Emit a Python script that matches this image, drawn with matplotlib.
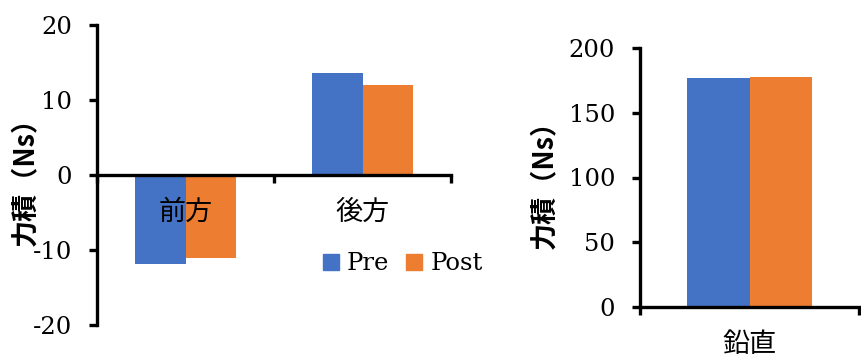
import numpy as np
import matplotlib
matplotlib.use("Agg")
from matplotlib import pyplot as plt
from matplotlib.patches import Patch

# data
horiz_labels = ["前方", "後方"]
horiz_pre = [-11.9, 13.6]
horiz_post = [-11.0, 12.0]

vert_labels = ["鉛直"]
vert_pre = [176.6]
vert_post = [177.4]

series_names = ["Pre", "Post"]
colors = ["#4472C4", "#ED7D31"]

serif = ["DejaVu Serif"]
cjk = ["Noto Sans CJK JP", "DejaVu Sans"]
fs = 17.5
fs_cjk = 19.5
bar_w = 0.285
spine_w = 2.4


def style_axes(ax, labels, ylim, yticks):
    # moving the spine resets ticks, so do it first
    ax.spines["bottom"].set_position(("data", 0))
    x = np.arange(len(labels))
    ax.set_xlim(-0.5, len(labels) - 0.5)
    ax.set_ylim(*ylim)
    ax.set_yticks(yticks)
    ax.set_yticklabels([str(t) for t in yticks], family=serif, fontsize=fs)
    ax.set_xticks(x)
    ax.set_xticklabels(labels, family=cjk, fontsize=fs_cjk)
    ax.set_xticks(np.arange(len(labels) + 1) - 0.5, minor=True)
    ax.tick_params(axis="x", which="major", length=0, pad=17)
    ax.tick_params(axis="x", which="minor", length=6, width=spine_w, direction="out")
    ax.tick_params(axis="y", length=6, width=spine_w, direction="out", pad=12)
    for s in ["top", "right"]:
        ax.spines[s].set_visible(False)
    for s in ["left", "bottom"]:
        ax.spines[s].set_linewidth(spine_w)
        ax.spines[s].set_color("black")
    ax.set_ylabel("力積（Ns）", family=cjk, fontsize=fs_cjk, fontweight="bold")


fig = plt.figure(figsize=(8.61, 3.6), dpi=100)

# left panel: forward / backward
ax1 = fig.add_axes([97 / 861, 35 / 360, 354 / 861, 300 / 360])
x1 = np.arange(len(horiz_labels))
ax1.bar(x1 - bar_w / 2, horiz_pre, bar_w, color=colors[0], zorder=1)
ax1.bar(x1 + bar_w / 2, horiz_post, bar_w, color=colors[1], zorder=1)
style_axes(ax1, horiz_labels, (-20, 20), [-20, -10, 0, 10, 20])
ax1.yaxis.set_label_coords(-0.165, 0.5)

# right panel: vertical
ax2 = fig.add_axes([640 / 861, 52.7 / 360, 219 / 861, 259.6 / 360])
x2 = np.arange(len(vert_labels))
ax2.bar(x2 - bar_w / 2, vert_pre, bar_w, color=colors[0], zorder=1)
ax2.bar(x2 + bar_w / 2, vert_post, bar_w, color=colors[1], zorder=1)
style_axes(ax2, vert_labels, (0, 200), [0, 50, 100, 150, 200])
ax2.yaxis.set_label_coords(-0.375, 0.5)

handles = [Patch(color=c, label=n) for c, n in zip(colors, series_names)]
fig.legend(handles=handles, loc="center left", bbox_to_anchor=(323 / 861, 96 / 360),
           ncol=2, frameon=False, prop={"family": serif, "size": fs},
           handlelength=0.66, handleheight=0.66, handletextpad=0.33,
           columnspacing=0.7, borderpad=0, borderaxespad=0)

fig.savefig("out.png", dpi=100)
